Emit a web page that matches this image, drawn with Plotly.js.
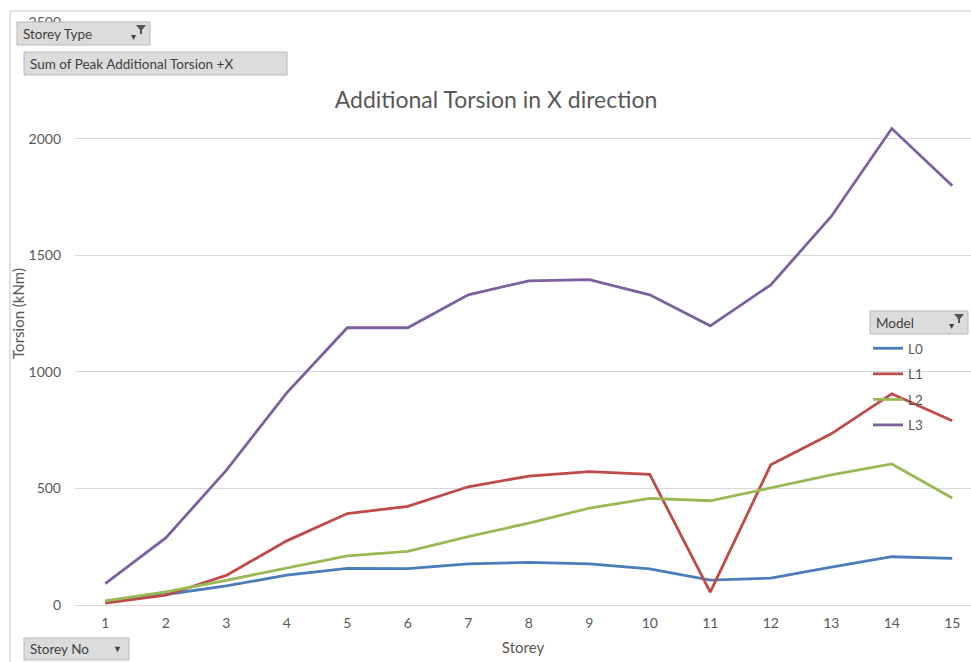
<!DOCTYPE html>
<html>
<head>
<meta charset="utf-8">
<script src="https://cdn.plot.ly/plotly-3.0.1.min.js"></script>
<style>html,body{margin:0;padding:0;background:#fff;}#chart{width:971px;height:662px;}</style>
</head>
<body>
<div id="chart"></div>
<script>
// ---- data ----
var storeys = [1,2,3,4,5,6,7,8,9,10,11,12,13,14,15];
var L0 = [13,45,82,128,157,156,176,183,176,155,107,115,162,207,200];
var L1 = [8,42,127,275,392,423,507,553,572,560,55,601,734,906,790];
var L2 = [18,56,106,158,211,230,293,351,415,457,447,502,558,605,459];
var L3 = [92,288,577,910,1189,1189,1330,1390,1395,1330,1197,1373,1666,2043,1798];
var seriesNames = ["L0","L1","L2","L3"];
var yTicks = [0,500,1000,1500,2000,2500];

// ---- layout helpers (pixel -> paper) ----
var ML = 75, MT = 22, MB = 57, W = 971, H = 662;
var PW = W - ML, PH = H - MT - MB;
function px(x){ return (x - ML) / PW; }
function py(y){ return (H - MB - y) / PH; }

var colors = ["#4a7ebb","#be4b48","#98b954","#7d60a0"];
var font = "Lato, 'Open Sans', sans-serif";
var allSeries = [L0, L1, L2, L3];
var traces = allSeries.map(function(vals, i){
  return {
    x: storeys, y: vals, name: seriesNames[i], type: "scatter", mode: "lines",
    legendgroup: "g" + i,
    line: {color: colors[i], width: 2.8}
  };
});

function button(x0, y0, x1, y1){
  return {type:"rect", xref:"paper", yref:"paper", x0:px(x0), x1:px(x1), y0:py(y1), y1:py(y0),
    fillcolor:"#dcdcdc", line:{color:"#b8b8b8", width:1}, layer:"above"};
}
function funnel(x, y){
  var pts = [[x,y],[x+10,y],[x+6,y+5],[x+6,y+9],[x+4,y+9],[x+4,y+5]];
  var d = "M" + pts.map(function(p){return px(p[0]) + "," + py(p[1]);}).join(" L") + " Z";
  return {type:"path", xref:"paper", yref:"paper", path:d, fillcolor:"#555555", line:{width:0}, layer:"above"};
}
function label(x, y, text, size, anchor){
  return {xref:"paper", yref:"paper", x:px(x), y:py(y), text:text, showarrow:false,
    xanchor:anchor || "left", yanchor:"middle", font:{family:font, size:size || 13, color:"#404040"}};
}

var shapes = [
  {type:"line", xref:"paper", yref:"paper", x0:px(10), x1:px(971), y0:py(11), y1:py(11), line:{color:"#d9d9d9", width:1.5}},
  {type:"line", xref:"paper", yref:"paper", x0:px(10), x1:px(10), y0:py(11), y1:py(662), line:{color:"#d9d9d9", width:1.5}},
  button(17, 22, 150, 45),
  button(24, 52, 287, 75),
  button(24, 638, 129, 660),
  button(870, 311, 968, 334),
  funnel(136, 25),
  funnel(954, 314)
];
var annotations = [
  label(21, 34, "Storey Type", 13.5),
  label(129, 36, "▾", 10),
  label(28, 64, "Sum of Peak Additional Torsion +X", 13.5),
  label(28, 649, "Storey No", 13.5),
  label(111, 648, "▼", 9),
  label(874, 323, "Model", 13.5),
  label(947, 325, "▾", 10)
];

var layout = {
  width: W, height: H,
  margin: {l: ML, r: 0, t: MT, b: MB, pad: 0},
  paper_bgcolor: "#ffffff", plot_bgcolor: "#ffffff",
  font: {family: font, color: "#595959", size: 14},
  title: {text: "Additional Torsion in X direction", xref: "container", x: 496 / W, xanchor: "center",
          yref: "container", y: 1 - 100 / H, yanchor: "middle",
          font: {family: font, size: 23, color: "#595959"}},
  xaxis: {
    range: [0.5, 0.5 + PW / 60.5], tickvals: storeys, ticktext: storeys.map(String),
    showgrid: false, zeroline: false, showline: false, ticks: "", ticklabelstandoff: 8,
    tickfont: {size: 14, color: "#595959"},
    title: {text: "Storey", font: {size: 15, color: "#595959"}, standoff: 12}
  },
  yaxis: {
    range: [0, 2500], tickvals: yTicks, ticktext: yTicks.map(String),
    showgrid: true, gridcolor: "#d9d9d9", gridwidth: 1,
    zeroline: true, zerolinecolor: "#d9d9d9", zerolinewidth: 1,
    showline: false, ticks: "", ticklabelstandoff: 13,
    tickfont: {size: 14, color: "#595959"},
    title: {text: "Torsion (kNm)", font: {size: 15, color: "#595959"}, standoff: 0}
  },
  showlegend: true,
  legend: {
    x: px(868), xanchor: "left", y: py(333), yanchor: "top",
    bgcolor: "rgba(0,0,0,0)", borderwidth: 0,
    traceorder: "grouped", tracegroupgap: 5,
    font: {family: font, size: 13.5, color: "#595959"}
  },
  shapes: shapes,
  annotations: annotations
};

Plotly.newPlot("chart", traces, layout, {displayModeBar: false, staticPlot: true});
</script>
</body>
</html>
